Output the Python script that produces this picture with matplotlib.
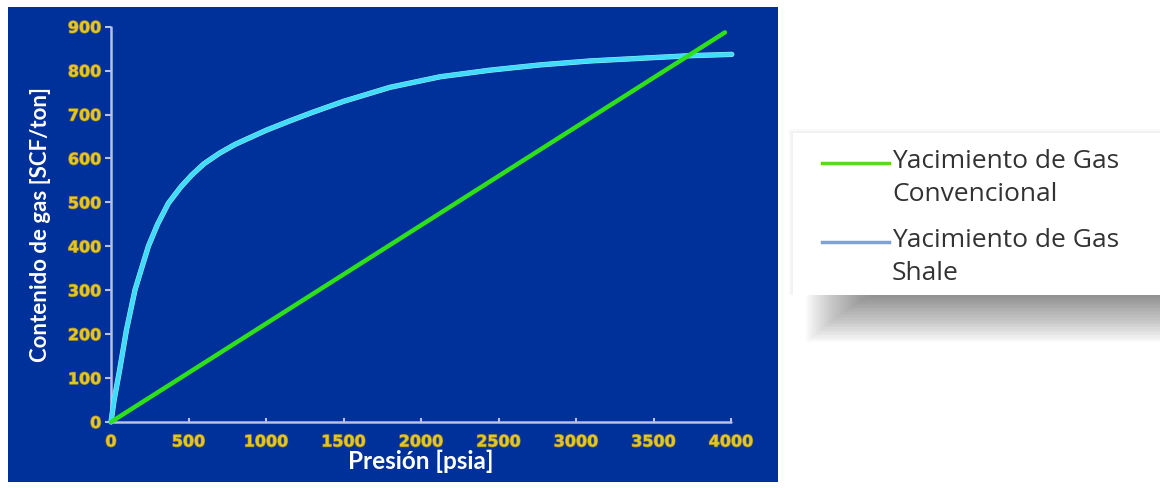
import matplotlib
matplotlib.use("Agg")
import matplotlib.pyplot as plt
from matplotlib.patches import Rectangle
from matplotlib.lines import Line2D
import matplotlib.patheffects as pe

# ---- data ----
conv_x = [0, 3961]
conv_y = [0, 887]

shale_x = [0, 20, 52, 100, 155, 241, 300, 370, 450, 520, 600, 700, 800, 900, 1000, 1150, 1300,
           1500, 1800, 2123, 2445, 2768, 3090, 3413, 3735, 4005]
shale_y = [0, 50, 111, 210, 301, 400, 450, 498, 535, 562, 588, 612, 632, 648, 664, 685, 705,
           730, 762, 786, 801, 813, 822, 828, 834, 837]

x_ticks = [0, 500, 1000, 1500, 2000, 2500, 3000, 3500, 4000]
y_ticks = [0, 100, 200, 300, 400, 500, 600, 700, 800, 900]

x_label = "Presión [psia]"
y_label = "Contenido de gas [SCF/ton]"
legend_labels = ["Yacimiento de Gas\nConvencional", "Yacimiento de Gas\nShale"]

# ---- styles ----
W, H = 1160, 488
BLUE = "#00309a"
GREEN = "#2ee01a"
CYAN = "#2fd8f8"
LEG_GREEN = "#5ed81a"
LEG_BLUE = "#80a2d2"
GOLD = "#e2c626"
SPINE = "#b8bfe8"

fig = plt.figure(figsize=(W / 100, H / 100), dpi=100)
fig.patch.set_facecolor("white")

# blue panel
fig.patches.append(Rectangle((8 / W, 6 / H), 770 / W, 475 / H, transform=fig.transFigure,
                             facecolor=BLUE, edgecolor="none", zorder=-2))

ax = fig.add_axes([111 / W, (H - 422) / H, 620 / W, (422 - 26.7) / H])
ax.set_zorder(0)
ax.set_facecolor("none")
ax.plot(shale_x, shale_y, color="#a8f4ff", lw=3.8, solid_capstyle="round",
        solid_joinstyle="round", clip_on=False, zorder=3)
ax.plot(shale_x, shale_y, color=CYAN, lw=3.2, solid_capstyle="round",
        solid_joinstyle="round", clip_on=False, zorder=3, alpha=0.85)
ax.plot(conv_x, conv_y, color=GREEN, lw=3.2, solid_capstyle="round", clip_on=False, zorder=4)

ax.set_xlim(0, 4000)
ax.set_ylim(0, 900)
ax.set_xticks(x_ticks)
ax.set_yticks(y_ticks)
for s in ["top", "right"]:
    ax.spines[s].set_visible(False)
for s in ["left", "bottom"]:
    ax.spines[s].set_color(SPINE)
    ax.spines[s].set_linewidth(1.8)
    ax.spines[s].set_capstyle("round")
ax.tick_params(axis="y", direction="out", length=4, width=1.5, color=SPINE, pad=3,
               labelcolor=GOLD, labelsize=11.5)
ax.tick_params(axis="x", direction="in", length=3, width=1.5, color=SPINE, pad=9,
               labelcolor=GOLD, labelsize=11.5)
for lab in ax.get_xticklabels() + ax.get_yticklabels():
    lab.set_fontweight("bold")
    lab.set_family("DejaVu Sans")
    lab.set_path_effects([pe.withStroke(linewidth=1.0, foreground="#8a7a3a")])

ax.set_xlabel(x_label, color="white", fontsize=17.5, fontweight="bold", family="Lato", labelpad=0)
ax.set_ylabel(y_label, color="white", fontsize=16, fontweight="bold", family="Lato", labelpad=12)

# ---- legend panel with soft shadow ----
lx, ly, lw_, lh = 793 / W, (H - 295) / H, (W - 793) / W, 162 / H
N = 36
for i in range(N):
    depth = 50 * (1 - i / N) ** 1.2
    left = 806 + i * 2.0
    fig.patches.append(Rectangle((left / W, (H - 292 - depth) / H), (W - left) / W, depth / H,
                                 transform=fig.transFigure, facecolor="#4a4a4a",
                                 edgecolor="none", alpha=0.022, zorder=0.5))
# faint glow around the box
for m, c in [(4, "#f9f9f9"), (2, "#f2f2f2")]:
    fig.patches.append(Rectangle(((793 - m) / W, (H - 295) / H), (W - 793 + m) / W, (162 + m) / H,
                                 transform=fig.transFigure, facecolor=c,
                                 edgecolor="none", zorder=0.6))
lax = fig.add_axes([lx, ly, lw_, lh])
lax.set_zorder(1)
lax.set_facecolor("white")
lax.set_xlim(0, 367)
lax.set_ylim(162, 0)
lax.set_xticks([])
lax.set_yticks([])
for s in lax.spines.values():
    s.set_visible(False)

handles = [Line2D([], [], color=LEG_GREEN, lw=2.5), Line2D([], [], color=LEG_BLUE, lw=2.5)]
rows = [30, 109]
for h, lab, r in zip(handles, legend_labels, rows):
    lax.add_line(Line2D([29, 96], [r, r], color=h.get_color(), lw=h.get_linewidth()))
    lax.text(99, r - 14, lab, fontsize=19, family="Open Sans", color="#333333",
             va="top", ha="left", linespacing=1.42)

fig.savefig("out.png", dpi=100, facecolor="white")
